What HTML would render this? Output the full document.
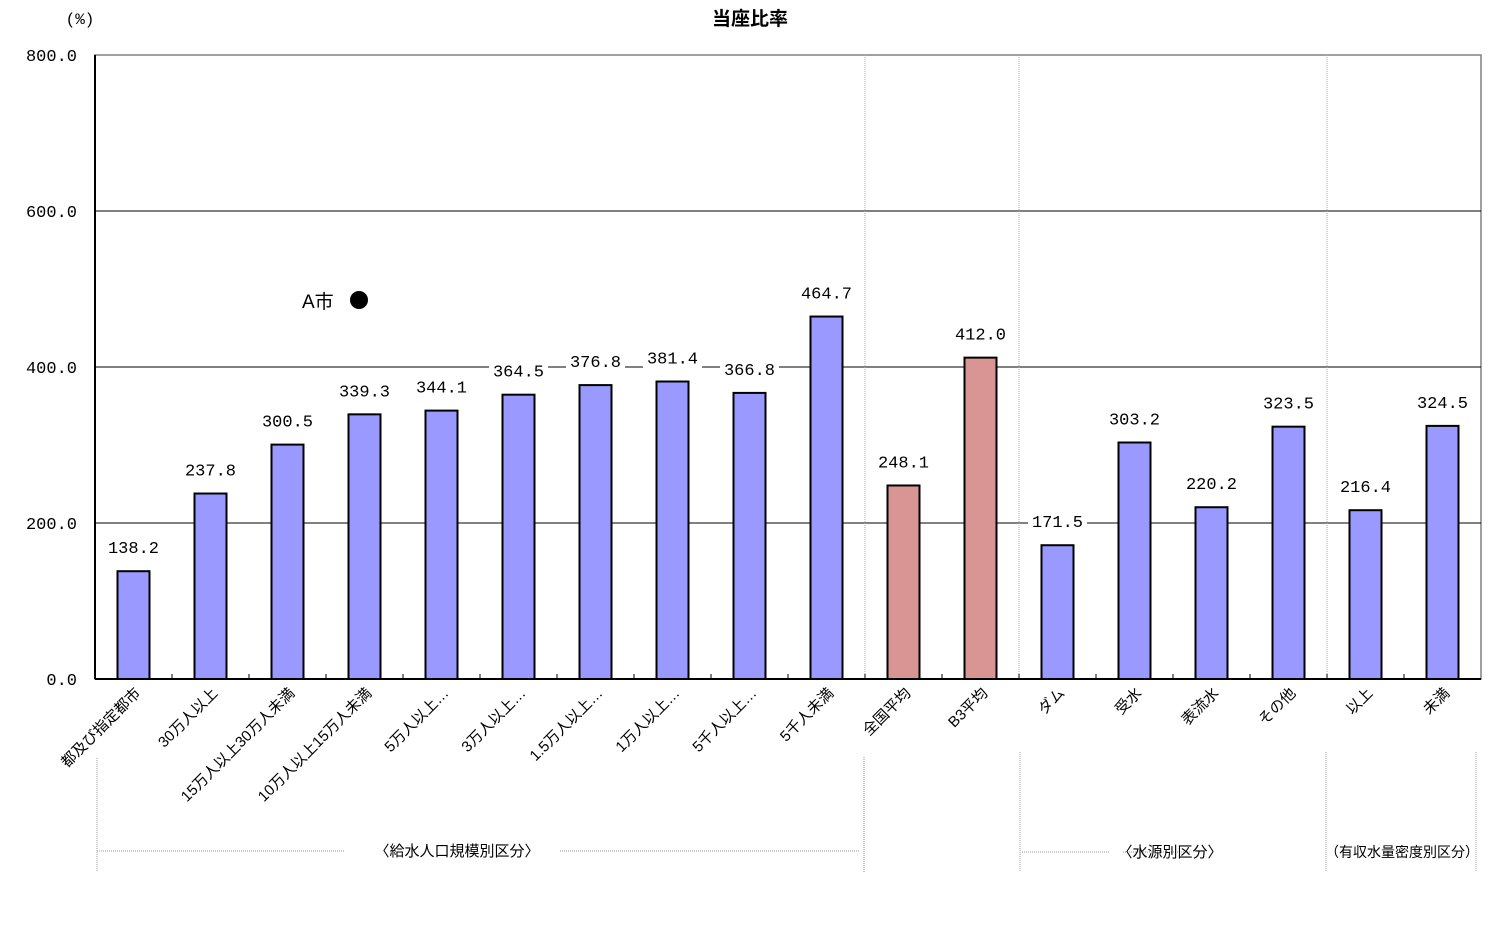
<!DOCTYPE html>
<html><head><meta charset="utf-8"><style>
body{margin:0;background:#fff}
svg{display:block;font-family:"Liberation Sans","Noto Sans CJK JP",sans-serif}
.mono{font-family:"Liberation Mono","Noto Sans CJK JP",monospace}
</style></head><body>
<svg id="chart" width="1499" height="927">
<text x="750" y="25" text-anchor="middle" font-size="19" font-weight="bold">当座比率</text>
<text x="80" y="24" text-anchor="middle" font-size="16" class="mono">(%)</text>
<g id="grid"></g><g id="bars"></g><g id="labels"></g>
<g>
<text x="302" y="308" font-size="19">A市</text>
<circle cx="359" cy="300" r="9" fill="#000"/>
</g>
<g stroke="#999" stroke-dasharray="1,1" fill="none">
<line x1="97" y1="758" x2="97" y2="872"/><line x1="864" y1="757" x2="864" y2="872"/>
<line x1="1020" y1="752" x2="1020" y2="872"/><line x1="1326" y1="752" x2="1326" y2="872"/>
<line x1="1476" y1="752" x2="1476" y2="872"/>
<line x1="97" y1="851" x2="345" y2="851"/><line x1="560" y1="851" x2="860" y2="851"/>
<line x1="1022" y1="852" x2="1110" y2="852"/><line x1="1123" y1="852" x2="1190" y2="852"/>
</g>
<text x="457" y="856" text-anchor="middle" font-size="15">〈給水人口規模別区分〉</text>
<text x="1170" y="857" text-anchor="middle" font-size="15">〈水源別区分〉</text>
<text x="1402" y="857" text-anchor="middle" font-size="14">（有収水量密度別区分）</text>
</svg>
<script>
const categories=["都及び指定都市","30万人以上","15万人以上30万人未満","10万人以上15万人未満","5万人以上…","3万人以上…","1.5万人以上…","1万人以上…","5千人以上…","5千人未満","全国平均","B3平均","ダム","受水","表流水","その他","以上","未満"];
const values=[138.2,237.8,300.5,339.3,344.1,364.5,376.8,381.4,366.8,464.7,248.1,412.0,171.5,303.2,220.2,323.5,216.4,324.5];
const highlight=[0,0,0,0,0,0,0,0,0,0,1,1,0,0,0,0,0,0];
const yTicks=[0,200,400,600,800];
const NS="http://www.w3.org/2000/svg";
const X0=95,X1=1481,Y0=679,Y1=55,YMAX=800;
const step=(X1-X0)/categories.length;
const y=v=>Y0-(v/YMAX)*(Y0-Y1);
const xc=i=>X0+step*(i+0.5);
function mk(t,a,p){const e=document.createElementNS(NS,t);for(const k in a)e.setAttribute(k,a[k]);p.appendChild(e);return e;}
const grid=document.getElementById('grid'),bars=document.getElementById('bars'),labels=document.getElementById('labels');
mk('rect',{x:X0,y:Y1,width:X1-X0,height:Y0-Y1,fill:'#fff',stroke:'#808080','stroke-width':1.5},grid);
yTicks.forEach(t=>{
  if(t>0&&t<YMAX){const l=mk('line',{x1:X0,x2:X1,y1:y(t),y2:y(t),stroke:'#000','stroke-width':1},grid);
  
  }
  const tx=mk('text',{x:77,y:y(t)+6,'text-anchor':'end','font-size':17,class:'mono'},grid);
  tx.textContent=t.toFixed(1);
  
  
});
[10,12,16].forEach(i=>{mk('line',{x1:X0+step*i,x2:X0+step*i,y1:Y1,y2:Y0,stroke:'#aaa','stroke-dasharray':'1,1'},grid);});
mk('line',{x1:X0,x2:X0,y1:Y1,y2:Y0,stroke:'#000','stroke-width':2},grid);
mk('line',{x1:X0,x2:X1,y1:Y0,y2:Y0,stroke:'#000','stroke-width':2},grid);
for(let i=1;i<categories.length;i++)mk('line',{x1:X0+step*i,x2:X0+step*i,y1:Y0,y2:Y0-5,stroke:'#000'},grid);
values.forEach((v,i)=>{
  const b=mk('rect',{x:xc(i)-16,y:y(v),width:32,height:Y0-y(v),fill:highlight[i]?'#d99594':'#9999ff',stroke:'#000','stroke-width':2},bars);
  
  
  const s=v.toFixed(1);
  mk('rect',{x:xc(i)-s.length*5.3-3,y:y(v)-36,width:s.length*10.6+6,height:22,fill:'#fff'},labels);
  const t=mk('text',{x:xc(i),y:y(v)-18,'text-anchor':'middle','font-size':17,class:'mono'},labels);
  t.textContent=s;
  
  
  const c=mk('text',{x:xc(i)+8,y:694,'text-anchor':'end','font-size':15,transform:`rotate(-45 ${xc(i)+8} 694)`},labels);
  c.textContent=categories[i];
  
  
});
</script>
</body></html>
